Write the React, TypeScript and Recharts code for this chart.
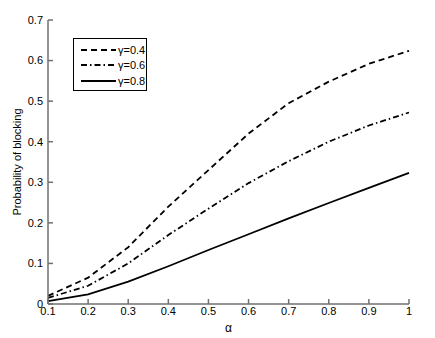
import React from 'react';
import { LineChart, Line, XAxis, YAxis, Legend } from 'recharts';

// alpha values along the x axis
const alphas = [0.1, 0.2, 0.3, 0.4, 0.5, 0.6, 0.7, 0.8, 0.9, 1.0];

// blocking probability for each gamma
const gamma04 = [0.02, 0.065, 0.14, 0.24, 0.33, 0.42, 0.495, 0.548, 0.592, 0.624];
const gamma06 = [0.015, 0.045, 0.10, 0.17, 0.235, 0.298, 0.352, 0.40, 0.44, 0.472];
const gamma08 = [0.007, 0.024, 0.055, 0.093, 0.133, 0.172, 0.211, 0.249, 0.286, 0.323];

const xTicks = [0.1, 0.2, 0.3, 0.4, 0.5, 0.6, 0.7, 0.8, 0.9, 1];
const yTicks = [0, 0.1, 0.2, 0.3, 0.4, 0.5, 0.6, 0.7];

const series = [
  { key: 'g04', name: 'γ=0.4', dash: '6 4' },
  { key: 'g06', name: 'γ=0.6', dash: '6 3 1.5 3' },
  { key: 'g08', name: 'γ=0.8', dash: undefined as string | undefined },
];

const data = alphas.map((a, i) => ({
  alpha: a,
  g04: gamma04[i],
  g06: gamma06[i],
  g08: gamma08[i],
}));

const FONT = '"Liberation Sans", Arial, Helvetica, sans-serif';
const AXIS = '#707070';
const tickStyle = { fill: '#000', fontSize: 11, fontFamily: FONT };

function LegendBox() {
  return (
    <div
      style={{
        width: 74,
        height: 53,
        border: '1px solid #000',
        background: '#fff',
        fontFamily: FONT,
        fontSize: 11,
        boxSizing: 'border-box',
        paddingTop: 3,
      }}
    >
      {series.map((s) => (
        <div key={s.key} style={{ display: 'flex', alignItems: 'center', height: 15.5 }}>
          <svg width={42} height={10} style={{ marginLeft: 6 }}>
            <line x1={1} y1={5} x2={36} y2={5} stroke="#000" strokeWidth={1.8} strokeDasharray={s.dash} />
          </svg>
          <span style={{ marginLeft: -4 }}>{s.name}</span>
        </div>
      ))}
    </div>
  );
}

export default function App() {
  return (
    <div style={{ position: 'absolute', left: 0, top: 0, background: '#fff' }}>
      <LineChart width={435} height={338} data={data} margin={{ top: 20, right: 26, bottom: 0, left: 0 }}>
        <XAxis
          dataKey="alpha"
          type="number"
          domain={[0.1, 1]}
          ticks={xTicks}
          interval={0}
          tickSize={-5}
          tickMargin={8}
          height={34}
          stroke={AXIS}
          strokeWidth={1.5}
          tick={tickStyle}
          tickFormatter={(v) => String(v)}
          label={{ value: 'α', position: 'insideBottom', offset: 6, style: { fill: '#000', fontSize: 12, fontFamily: FONT } }}
        />
        <XAxis
          xAxisId="top"
          dataKey="alpha"
          type="number"
          orientation="top"
          domain={[0.1, 1]}
          ticks={xTicks}
          interval={0}
          tickSize={-5}
          height={0}
          stroke={AXIS}
          strokeWidth={1.5}
          tickFormatter={() => ''}
        />
        <YAxis
          type="number"
          domain={[0, 0.7]}
          ticks={yTicks}
          interval={0}
          tickSize={-5}
          tickMargin={10}
          width={48}
          stroke={AXIS}
          strokeWidth={1.5}
          tick={tickStyle}
          tickFormatter={(v) => String(v)}
          label={{
            value: 'Probability of blocking',
            angle: -90,
            position: 'insideLeft',
            offset: 17,
            style: { textAnchor: 'middle', fill: '#000', fontSize: 11, fontFamily: FONT },
          }}
        />
        <YAxis
          yAxisId="right"
          type="number"
          orientation="right"
          domain={[0, 0.7]}
          ticks={yTicks}
          interval={0}
          tickSize={-5}
          width={0}
          stroke={AXIS}
          strokeWidth={1.5}
          tickFormatter={() => ''}
        />
        <Legend
          layout="vertical"
          align="center"
          verticalAlign="middle"
          content={() => <LegendBox />}
          wrapperStyle={{ left: 73, top: 38, width: 76, height: 55 }}
        />
        {series.map((s) => (
          <Line
            key={s.key}
            dataKey={s.key}
            name={s.name}
            type="linear"
            stroke="#000"
            strokeWidth={1.8}
            strokeDasharray={s.dash}
            dot={false}
            isAnimationActive={false}
          />
        ))}
      </LineChart>
    </div>
  );
}
